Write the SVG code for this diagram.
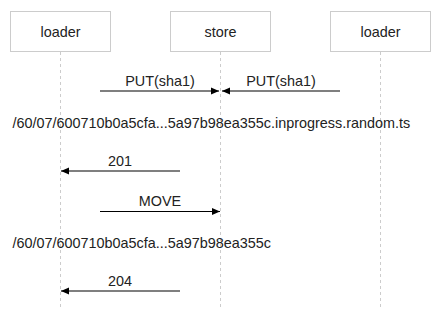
<svg xmlns="http://www.w3.org/2000/svg" width="443" height="310" viewBox="0 0 443 310">
<style>
.box{fill:#fff;stroke:#ccc;stroke-width:1}
.life{stroke:#ccc;stroke-width:1;stroke-dasharray:3,3;fill:none}
.t{font-family:"Liberation Sans",Arial,sans-serif;font-size:14.4px;fill:#222}
.c{text-anchor:middle}
.msg{stroke:#000;stroke-width:1.2;fill:none}
</style>
<defs>
<marker id="ah" markerWidth="8" markerHeight="8" refX="8" refY="4" orient="auto" markerUnits="userSpaceOnUse">
<path d="M0,0.5 L8,4 L0,7.5 z" fill="#000"/>
</marker>
</defs>
<rect width="443" height="310" fill="#fff"/>
<g id="lifelines">
<line class="life" x1="60.5" y1="52" x2="60.5" y2="310"/>
<line class="life" x1="220.5" y1="52" x2="220.5" y2="310"/>
<line class="life" x1="380.5" y1="52" x2="380.5" y2="310"/>
</g>
<g id="loader1"><rect class="box" x="10.5" y="11.5" width="100" height="40"/><text class="t c" x="60.5" y="37">loader</text></g>
<g id="store"><rect class="box" x="170.5" y="11.5" width="100" height="40"/><text class="t c" x="220.5" y="37">store</text></g>
<g id="loader2"><rect class="box" x="330.5" y="11.5" width="100" height="40"/><text class="t c" x="380.5" y="37">loader</text></g>
<g id="connectors">
<line class="msg" x1="100" y1="91" x2="219" y2="91" marker-end="url(#ah)"/>
<text class="t c" x="160" y="86">PUT(sha1)</text>
<line class="msg" x1="340" y1="91" x2="222" y2="91" marker-end="url(#ah)"/>
<text class="t c" x="281" y="86">PUT(sha1)</text>
<line class="msg" x1="180" y1="171" x2="61" y2="171" marker-end="url(#ah)"/>
<text class="t c" x="120" y="166">201</text>
<line class="msg" x1="100" y1="211.5" x2="220" y2="211.5" marker-end="url(#ah)"/>
<text class="t c" x="160" y="206">MOVE</text>
<line class="msg" x1="180" y1="291" x2="61" y2="291" marker-end="url(#ah)"/>
<text class="t c" x="120" y="286">204</text>
</g>
<g id="notes">
<text class="t" x="12.5" y="127.5">/60/07/600710b0a5cfa...5a97b98ea355c.inprogress.random.ts</text>
<text class="t" x="12.5" y="247.5">/60/07/600710b0a5cfa...5a97b98ea355c</text>
</g>
</svg>
